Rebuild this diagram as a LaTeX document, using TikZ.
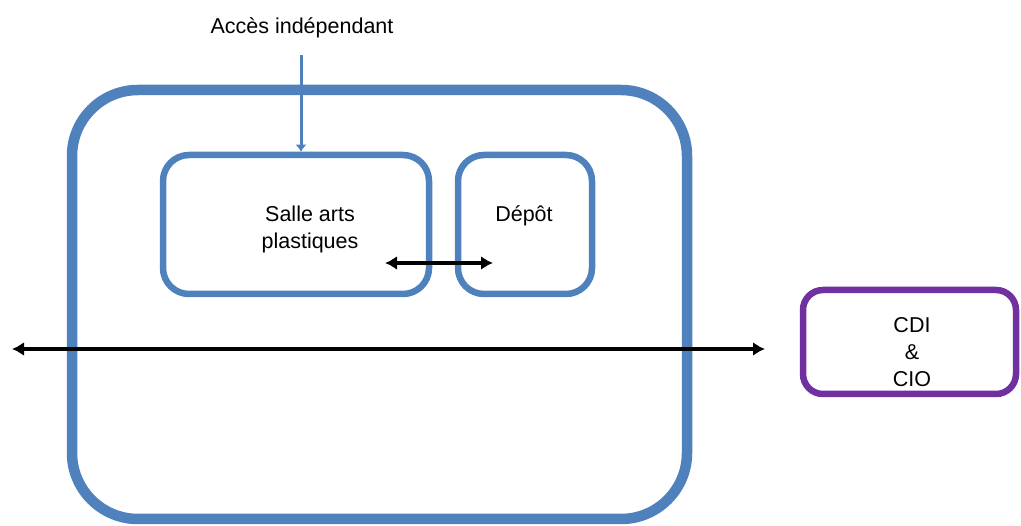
\documentclass[tikz,border=0pt]{standalone}
\usepackage{fontspec}
\setmainfont{Liberation Sans}
\usetikzlibrary{arrows.meta}
\definecolor{roomblue}{HTML}{4F81BD}
\definecolor{cdipurple}{HTML}{7030A0}
\begin{document}
\begin{tikzpicture}[x=1pt,y=-1pt,
  room/.style={draw=roomblue, line width=6.5pt, rounded corners=26pt, inner sep=0pt, fill=none},
  lbl/.style={font=\fontsize{21.5}{27}\selectfont, align=center, inner sep=0pt},
  link/.style={line width=3.2pt, {Latex[length=12pt,width=14pt]}-{Latex[length=12pt,width=14pt]}}
]
\useasboundingbox (0,0) rectangle (1021,526);
% building outline
\node[room, line width=10.5pt, rounded corners=66pt, minimum width=615pt, minimum height=429pt] (batiment) at (379.5,304.5) {};
% rooms
\node[room, minimum width=266pt, minimum height=139pt] (salle) at (296,224.5) {};
\node[lbl] (salletxt) at (310,229) {Salle arts\\plastiques};
\node[room, minimum width=134pt, minimum height=139pt] (depot) at (525,224.5) {};
\node[lbl] (depottxt) at (524,216) {Dépôt};
\node[draw=cdipurple, line width=6.5pt, rounded corners=20pt, inner sep=0pt, minimum width=213pt, minimum height=104pt] (cdi) at (909.5,342) {};
\node[lbl] (cditxt) at (912,352) {CDI\\\&\\CIO};
% independent access
\node[lbl] (acces) at (302,28) {Accès indépendant};
\coordinate (accesdebut) at (301,55);
\draw[roomblue, line width=3pt, -{Latex[length=7pt,width=11pt]}] (accesdebut) -- (accesdebut |- salle.north);
% circulation
\coordinate (couloirA) at (12,349);
\coordinate (couloirB) at (765,349);
\draw[link] (couloirA) -- (couloirB);
\coordinate (passA) at (385,263);
\coordinate (passB) at (493,263);
\draw[link] (passA) -- (passB);
\end{tikzpicture}
\end{document}
